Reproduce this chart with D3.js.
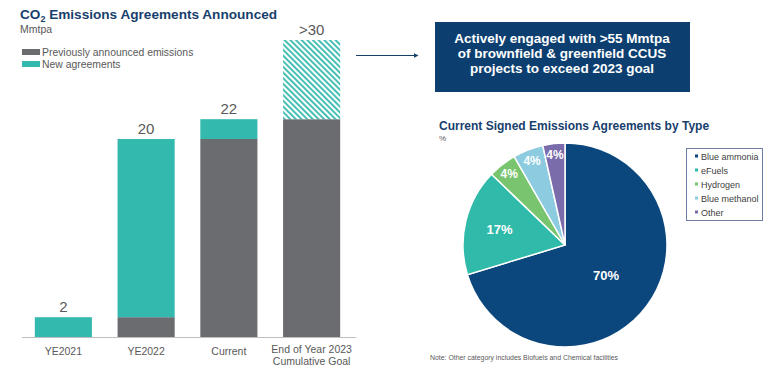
<!DOCTYPE html>
<html><head><meta charset="utf-8">
<script src="https://cdn.jsdelivr.net/npm/d3@7"></script>
<style>body{margin:0;background:#fff}svg{display:block;font-family:"Liberation Sans",Arial,sans-serif}</style>
</head><body><svg id="c" width="768" height="369"></svg>
<script>
// ---- data ----
const categories = ["YE2021", "YE2022", "Current", "End of Year 2023\nCumulative Goal"];
const previousValues = [0, 2, 20, 22];
const newValues = [2, 18, 2, 0];
const goalValues = [0, 0, 0, 8];
const totalLabels = ["2", "20", "22", ">30"];
const legendLabels = ["Previously announced emissions", "New agreements"];

const pieCategories = ["Blue ammonia", "eFuels", "Hydrogen", "Blue methanol", "Other"];
const pieValues = [70.3, 16.9, 4.5, 4.8, 3.5];
const pieLabels = ["70%", "17%", "4%", "4%", "4%"];

const svg = d3.select("#c");
const GREY = "#6b6c70", TEAL = "#33b9ad", NAVY = "#17406d", TXT = "#595959";
const pieColors = ["#0b477d", "#2fbaa9", "#78c46f", "#8ccbe0", "#7a6bab"];

// hatch pattern
const defs = svg.append("defs");
const pat = defs.append("pattern").attr("id", "hatch").attr("patternUnits", "userSpaceOnUse")
  .attr("width", 4).attr("height", 4).attr("patternTransform", "rotate(-45)");
pat.append("rect").attr("width", 4).attr("height", 4).attr("fill", "#fff");
pat.append("rect").attr("width", 1.8).attr("height", 4).attr("fill", TEAL);

// ---- title ----
const t = svg.append("text").attr("x", 20).attr("y", 19).attr("font-size", 13.6).attr("font-weight", "bold").attr("fill", NAVY);
t.append("tspan").text("CO");
t.append("tspan").attr("font-size", 9).attr("dy", 3).text("2");
t.append("tspan").attr("dy", -3).text(" Emissions Agreements Announced");
svg.append("text").attr("x", 20).attr("y", 33).attr("font-size", 10.5).attr("fill", TXT).text("Mmtpa");

// legend
const lg = svg.append("g");
[GREY, TEAL].forEach((c, i) => {
  lg.append("rect").attr("x", 22).attr("y", 49 + i * 12).attr("width", 18).attr("height", 6).attr("fill", c);
  lg.append("text").attr("x", 42).attr("y", 56 + i * 12).attr("font-size", 10.4).attr("fill", TXT).text(legendLabels[i]);
});

// ---- bars ----
const x = d3.scaleBand().domain(categories).range([22, 353]).paddingInner(0.31).paddingOuter(0.155);
const y = d3.scaleLinear().domain([0, 30]).range([337, 40]);
const rows = categories.map((c, i) => ({ c, p: previousValues[i], n: newValues[i], g: goalValues[i], lab: totalLabels[i] }));
const bars = svg.append("g");
rows.forEach(r => {
  const bx = x(r.c), bw = x.bandwidth();
  if (r.p > 0) bars.append("rect").attr("x", bx).attr("width", bw).attr("y", y(r.p)).attr("height", y(0) - y(r.p)).attr("fill", GREY);
  if (r.n > 0) bars.append("rect").attr("x", bx).attr("width", bw).attr("y", y(r.p + r.n)).attr("height", y(r.p) - y(r.p + r.n)).attr("fill", TEAL);
  if (r.g > 0) bars.append("rect").attr("x", bx).attr("width", bw).attr("y", y(r.p + r.n + r.g)).attr("height", y(r.p + r.n) - y(r.p + r.n + r.g)).attr("fill", "url(#hatch)");
  const tot = r.p + r.n + r.g;
  bars.append("text").attr("x", bx + bw / 2).attr("y", y(tot) - 5).attr("text-anchor", "middle")
    .attr("font-size", 15).attr("fill", TXT).text(r.lab);
});
// axis
const ax = svg.append("g").attr("transform", "translate(0,337)").call(d3.axisBottom(x).tickSize(0).tickFormat(""));
ax.select(".domain").attr("stroke", "#bfbfbf").attr("d", "M22,0.5H356");
rows.forEach(r => {
  const lines = r.c.split("\n");
  const tx = svg.append("text").attr("x", x(r.c) + x.bandwidth() / 2).attr("y", 355).attr("text-anchor", "middle")
    .attr("font-size", 10.5).attr("fill", TXT);
  lines.forEach((l, i) => tx.append("tspan").attr("x", x(r.c) + x.bandwidth() / 2).attr("dy", i === 0 ? (lines.length > 1 ? -2 : 0) : 12).text(l));
});

// arrow
defs.append("marker").attr("id", "ah").attr("viewBox", "0 0 10 10").attr("refX", 9).attr("refY", 5)
  .attr("markerWidth", 5).attr("markerHeight", 5).attr("orient", "auto")
  .append("path").attr("d", "M0,0L10,5L0,10z").attr("fill", NAVY);
svg.append("line").attr("x1", 356).attr("x2", 418).attr("y1", 55.5).attr("y2", 55.5).attr("stroke", NAVY).attr("stroke-width", 1).attr("marker-end", "url(#ah)");

// box
svg.append("rect").attr("x", 435).attr("y", 22).attr("width", 255).attr("height", 70).attr("fill", "#0c3f70");
["Actively engaged with >55 Mmtpa", "of brownfield & greenfield CCUS", "projects to exceed 2023 goal"].forEach((s, i) =>
  svg.append("text").attr("x", 562).attr("y", 43 + i * 15).attr("text-anchor", "middle").attr("font-size", 13.5)
    .attr("font-weight", "bold").attr("fill", "#fff").text(s));

// pie title
svg.append("text").attr("x", 439).attr("y", 130).attr("font-size", 12).attr("font-weight", "bold").attr("fill", NAVY)
  .text("Current Signed Emissions Agreements by Type");
svg.append("text").attr("x", 439).attr("y", 141).attr("font-size", 8).attr("fill", TXT).text("%");

// pie
const R = 102, cx = 565, cy = 245;
const pie = d3.pie().sort(null).value(d => d.v);
const arc = d3.arc().innerRadius(0).outerRadius(R);
const pdata = pie(pieCategories.map((c, i) => ({ c, v: pieValues[i], lab: pieLabels[i], col: pieColors[i] })));
const pg = svg.append("g").attr("transform", `translate(${cx},${cy})`);
pg.selectAll("path").data(pdata).join("path").attr("d", arc).attr("fill", d => d.data.col)
  .attr("stroke", "#fff").attr("stroke-width", 1.5);
pg.selectAll("text").data(pdata).join("text").attr("transform", d => {
  const lr = d.data.v > 50 ? 0.5 * R : d.data.v > 10 ? 0.66 * R : 0.89 * R;
  const a = (d.startAngle + d.endAngle) / 2;
  return `translate(${Math.sin(a) * lr},${-Math.cos(a) * lr})`;
}).attr("text-anchor", "middle").attr("dy", "0.35em").attr("font-size", d => d.data.v > 10 ? 13 : 12).attr("font-weight", "bold")
  .attr("fill", "#fff").text(d => d.data.lab);

// pie legend
const pl = svg.append("g");
pl.append("rect").attr("x", 686.5).attr("y", 148.5).attr("width", 76).attr("height", 72).attr("fill", "#fff").attr("stroke", "#6c7fa3");
pieCategories.forEach((c, i) => {
  pl.append("rect").attr("x", 695).attr("y", 154.5 + i * 14).attr("width", 3).attr("height", 3).attr("fill", pieColors[i]);
  pl.append("text").attr("x", 701).attr("y", 159.5 + i * 14).attr("font-size", 9).attr("fill", "#404040").text(c);
});

// note
svg.append("text").attr("x", 430).attr("y", 360).attr("font-size", 6.9).attr("fill", TXT)
  .text("Note: Other category includes Biofuels and Chemical facilities");
</script></body></html>
